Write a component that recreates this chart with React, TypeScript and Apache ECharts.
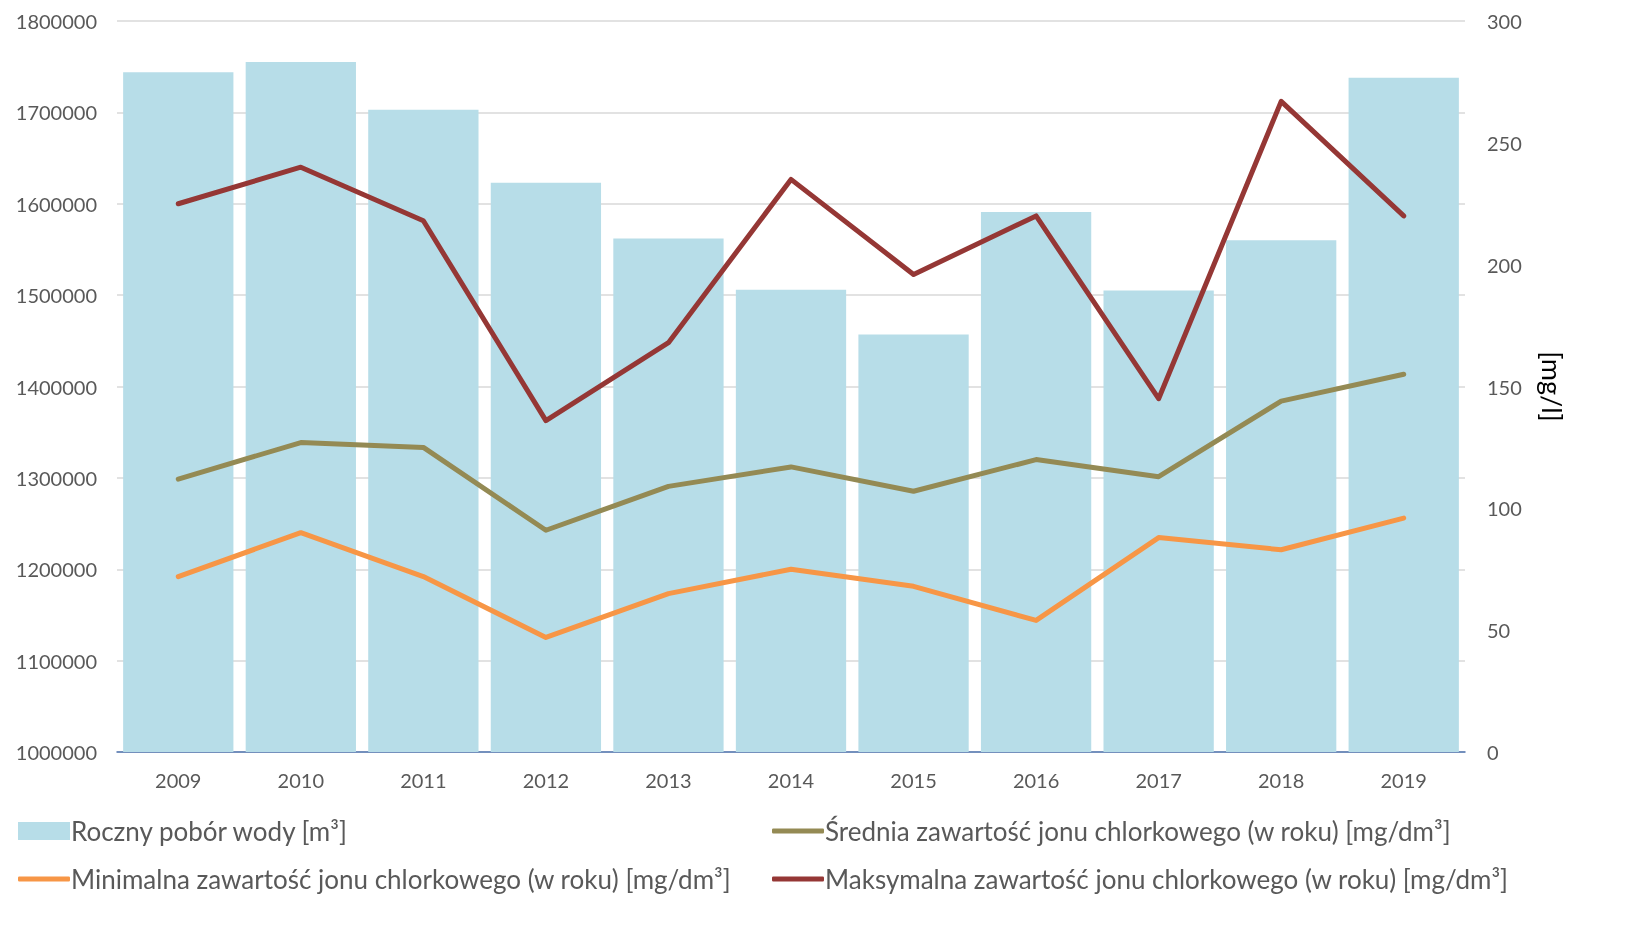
import React, { useEffect, useRef } from "react";
import * as echarts from "echarts";

const years = ["2009", "2010", "2011", "2012", "2013", "2014", "2015", "2016", "2017", "2018", "2019"];
const waterIntake = [1744000, 1755000, 1703000, 1623000, 1562000, 1506000, 1457000, 1591000, 1505000, 1560000, 1738000];
const avgChloride = [112, 127, 125, 91, 109, 117, 107, 120, 113, 144, 155];
const minChloride = [72, 90, 72, 47, 65, 75, 68, 54, 88, 83, 96];
const maxChloride = [225, 240, 218, 136, 168, 235, 196, 220, 145, 267, 220];

const names = [
  "Roczny pobór wody [m³]",
  "Średnia zawartość jonu chlorkowego (w roku) [mg/dm³]",
  "Minimalna zawartość jonu chlorkowego (w roku) [mg/dm³]",
  "Maksymalna zawartość jonu chlorkowego (w roku) [mg/dm³]",
];

const FONT = "Lato";
const TXT = "#595959";

export default function App() {
  const ref = useRef<HTMLDivElement>(null);
  useEffect(() => {
    if (!ref.current) return;
    const chart = echarts.init(ref.current, undefined, { renderer: "svg" });
    const legendBase = {
      itemGap: 0,
      textStyle: { fontFamily: FONT, fontSize: 26, color: TXT, padding: [0, 0, 0, -4] },
      padding: 0,
    };
    chart.setOption({
      animation: false,
      textStyle: { fontFamily: FONT },
      grid: { left: 117, right: 178, top: 21, bottom: 185, containLabel: false },
      legend: [
        { ...legendBase, data: [{ name: names[0], icon: "rect" }], left: 18, top: 818, itemWidth: 52, itemHeight: 18 },
        { ...legendBase, data: [{ name: names[1], icon: "roundRect" }], left: 772, top: 818, itemWidth: 52, itemHeight: 5 },
        { ...legendBase, data: [{ name: names[2], icon: "roundRect" }], left: 18, top: 866, itemWidth: 52, itemHeight: 5 },
        { ...legendBase, data: [{ name: names[3], icon: "roundRect" }], left: 772, top: 866, itemWidth: 52, itemHeight: 5 },
      ],
      xAxis: {
        type: "category",
        data: years,
        axisLine: { lineStyle: { color: "#4f74b0", width: 1.5 } },
        axisTick: { show: false },
        axisLabel: { fontFamily: FONT, fontSize: 20, color: TXT, margin: 18 },
      },
      yAxis: [
        {
          type: "value",
          min: 1000000,
          max: 1800000,
          interval: 100000,
          axisLine: { show: false },
          axisTick: { show: false },
          axisLabel: { fontFamily: FONT, fontSize: 20, color: TXT, margin: 20, formatter: (v: number) => String(v) },
          splitLine: { lineStyle: { color: "#d9d9d9", width: 1.5 } },
        },
        {
          type: "value",
          min: 0,
          max: 300,
          interval: 50,
          position: "right",
          axisLine: { show: false },
          axisTick: { show: false },
          axisLabel: { fontFamily: FONT, fontSize: 20, color: TXT, margin: 22 },
          splitLine: { show: false },
          name: "[mg/l]",
          nameLocation: "middle",
          nameRotate: -90,
          nameGap: 74,
          nameTextStyle: { fontFamily: FONT, fontSize: 27, color: "#000" },
        },
      ],
      series: [
        {
          name: names[0],
          type: "bar",
          data: waterIntake,
          yAxisIndex: 0,
          barCategoryGap: "10%",
          itemStyle: { color: "#b7dde8" },
        },
        {
          name: names[1],
          type: "line",
          data: avgChloride,
          yAxisIndex: 1,
          symbol: "none",
          lineStyle: { color: "#948a54", width: 5, cap: "round", join: "round" },
          itemStyle: { color: "#948a54" },
        },
        {
          name: names[2],
          type: "line",
          data: minChloride,
          yAxisIndex: 1,
          symbol: "none",
          lineStyle: { color: "#f79646", width: 5, cap: "round", join: "round" },
          itemStyle: { color: "#f79646" },
        },
        {
          name: names[3],
          type: "line",
          data: maxChloride,
          yAxisIndex: 1,
          symbol: "none",
          lineStyle: { color: "#953735", width: 5, cap: "round", join: "round" },
          itemStyle: { color: "#953735" },
        },
      ],
    });
    return () => chart.dispose();
  }, []);
  return <div ref={ref} style={{ position: "fixed", left: 0, top: 0, width: 1643, height: 937 }} />;
}
